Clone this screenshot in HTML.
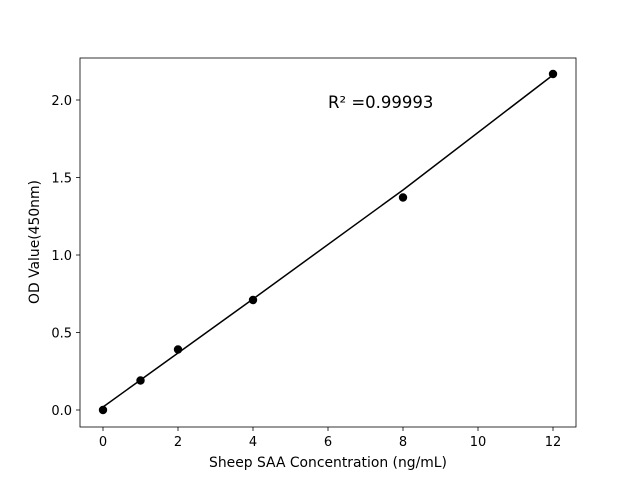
<!DOCTYPE html>
<html><head><style>body{margin:0;background:#fff}svg{display:block}text{font-family:"DejaVu Sans","Liberation Sans",sans-serif;fill:#000}</style></head>
<body>
<svg width="640" height="480" viewBox="0 0 640 480" xmlns="http://www.w3.org/2000/svg">
<rect width="640" height="480" fill="#fff"/>
<polyline points="103,407 140.5,380 178,353 253,299 403,190 553,75" fill="none" stroke="#000" stroke-width="1.5"/>
<g fill="#000">
<circle cx="103" cy="410" r="4.2"/>
<circle cx="140.5" cy="380.5" r="4.2"/>
<circle cx="178" cy="349.5" r="4.2"/>
<circle cx="253" cy="300" r="4.2"/>
<circle cx="403" cy="197.5" r="4.2"/>
<circle cx="553" cy="74" r="4.2"/>
</g>
<rect x="80" y="58" width="496" height="369" fill="none" stroke="#000" stroke-width="0.8"/>
<g stroke="#000" stroke-width="0.8">
<line x1="103" y1="427" x2="103" y2="431"/><line x1="178" y1="427" x2="178" y2="431"/><line x1="253" y1="427" x2="253" y2="431"/><line x1="328" y1="427" x2="328" y2="431"/><line x1="403" y1="427" x2="403" y2="431"/><line x1="478" y1="427" x2="478" y2="431"/><line x1="553" y1="427" x2="553" y2="431"/>
<line x1="76" y1="410" x2="80" y2="410"/><line x1="76" y1="332.5" x2="80" y2="332.5"/><line x1="76" y1="255" x2="80" y2="255"/><line x1="76" y1="177.5" x2="80" y2="177.5"/><line x1="76" y1="100" x2="80" y2="100"/>
</g>
<g font-size="13" text-anchor="middle">
<text x="103" y="446">0</text><text x="178" y="446">2</text><text x="253" y="446">4</text><text x="328" y="446">6</text><text x="403" y="446">8</text><text x="478" y="446">10</text><text x="553" y="446">12</text>
</g>
<g font-size="13" text-anchor="end">
<text x="72" y="415">0.0</text><text x="72" y="337.5">0.5</text><text x="72" y="260">1.0</text><text x="72" y="182.5">1.5</text><text x="72" y="105">2.0</text>
</g>
<text x="328" y="467" font-size="13.9" text-anchor="middle">Sheep SAA Concentration (ng/mL)</text>
<text transform="translate(39,242) rotate(-90)" font-size="13.9" text-anchor="middle">OD Value(450nm)</text>
<text x="328" y="108" font-size="16.5">R² =0.99993</text>
</svg>
</body></html>
